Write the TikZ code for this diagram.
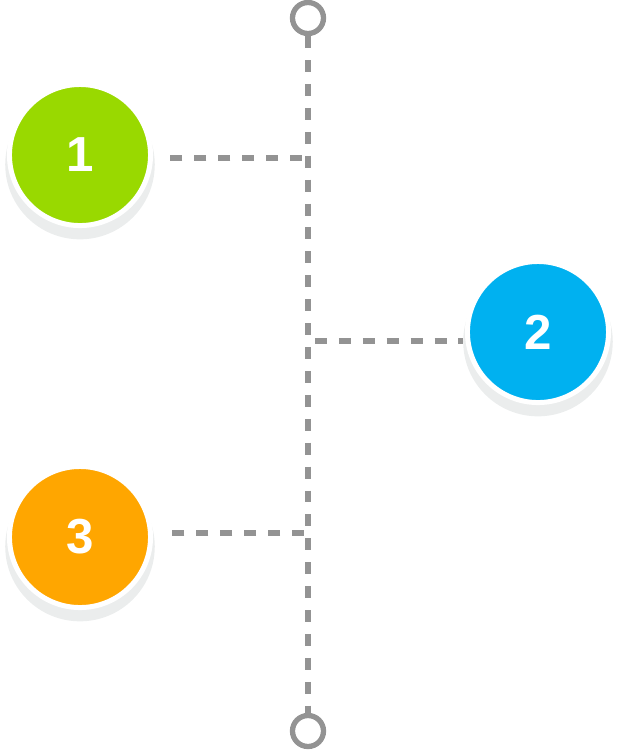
\documentclass[tikz,border=0pt]{standalone}
\usepackage{fontspec}
\setsansfont{Liberation Sans}
\usepackage{xcolor}
\usepackage{tikz}
\usetikzlibrary{shadows}
\definecolor{stepgreen}{HTML}{99D900}
\definecolor{stepblue}{HTML}{00B1F0}
\definecolor{steporange}{HTML}{FFA600}
\definecolor{spinegray}{HTML}{939393}
\definecolor{shadowgray}{HTML}{EBEDED}

\begin{document}
\begin{tikzpicture}[x=0.01cm,y=-0.01cm,
  stepdot/.style={circle,draw=white,line width=1.42pt,minimum size=1.41cm,inner sep=0pt,text=white,font=\sffamily\bfseries\fontsize{14}{14}\selectfont,drop shadow={shadow xshift=0cm,shadow yshift=-0.09cm,shadow scale=1.06,fill=shadowgray,opacity=1}},
  endring/.style={circle,draw=spinegray,line width=1.5pt,minimum size=0.31cm,inner sep=0pt},
  dashline/.style={draw=spinegray,line width=1.7pt,dash pattern=on 3.4pt off 3.4pt}
]
\useasboundingbox (0,0) rectangle (618,750);
\node[endring] (top) at (308,18) {};
\node[endring] (bot) at (308,731) {};
\draw[dashline] (top) -- (bot);
\node[stepdot,fill=stepgreen] (c1) at (80,155) {1};
\node[stepdot,fill=stepblue] (c2) at (538,332) {2};
\node[stepdot,fill=steporange] (c3) at (80,537) {3};
\coordinate (j1) at (308,158);
\coordinate (j2) at (308,341);
\coordinate (j3) at (308,533);
\draw[dashline,shorten <=0.06cm,shorten >=0.13cm] (j1) -- (c1.east |- j1);
\draw[dashline,shorten <=0.07cm,shorten >=0.02cm] (j2) -- (c2.west |- j2);
\draw[dashline,shorten <=0.04cm,shorten >=0.09cm] (j3) -- (c3.east |- j3);
\end{tikzpicture}
\end{document}
